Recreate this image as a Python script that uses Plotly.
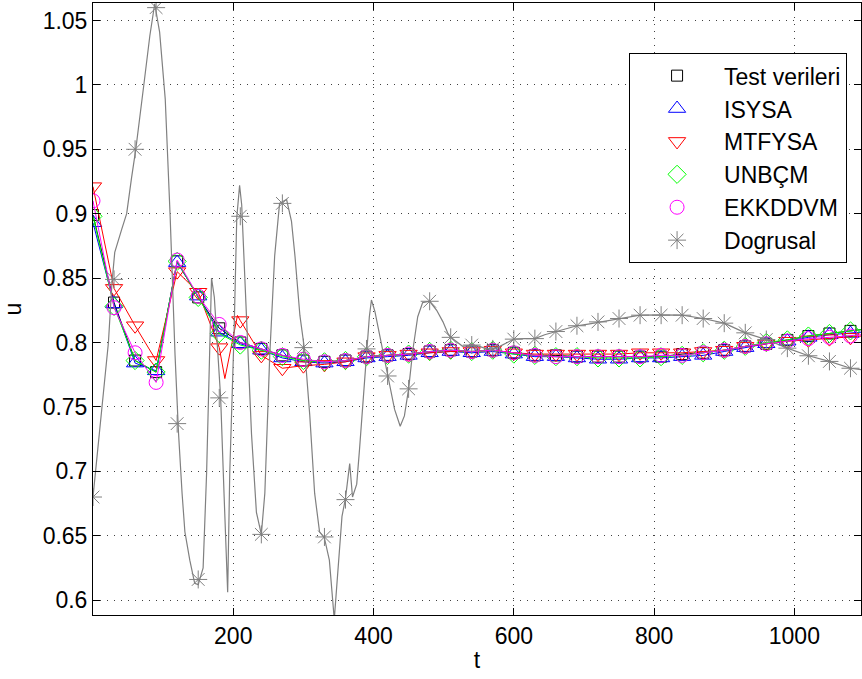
import plotly.graph_objects as go

# ---------------- data ----------------
t_mark = list(range(0, 1081, 30))

test_verileri = [0.899, 0.831, 0.786, 0.777, 0.863, 0.835, 0.811, 0.800, 0.795, 0.790,
                 0.786, 0.785, 0.786, 0.789, 0.790, 0.791, 0.793, 0.794, 0.793, 0.794,
                 0.792, 0.790, 0.790, 0.789, 0.789, 0.789, 0.789, 0.789, 0.791, 0.792,
                 0.794, 0.797, 0.799, 0.802, 0.805, 0.807, 0.809]
isysa = [0.893, 0.830, 0.784, 0.778, 0.862, 0.836, 0.808, 0.799, 0.794, 0.788,
         0.785, 0.784, 0.785, 0.788, 0.789, 0.790, 0.792, 0.793, 0.792, 0.793,
         0.791, 0.789, 0.789, 0.788, 0.787, 0.787, 0.788, 0.788, 0.789, 0.790,
         0.793, 0.796, 0.799, 0.801, 0.804, 0.806, 0.807]
mtfysa = [0.921, 0.842, 0.813, 0.786, 0.855, 0.839, 0.796, 0.817, 0.790, 0.780,
          0.782, 0.783, 0.785, 0.789, 0.790, 0.791, 0.792, 0.793, 0.793, 0.794,
          0.792, 0.791, 0.791, 0.791, 0.791, 0.791, 0.792, 0.792, 0.792, 0.793,
          0.794, 0.797, 0.799, 0.801, 0.802, 0.803, 0.804]
unbcm = [0.898, 0.828, 0.786, 0.777, 0.863, 0.835, 0.807, 0.798, 0.794, 0.789,
         0.786, 0.785, 0.786, 0.789, 0.790, 0.791, 0.793, 0.794, 0.793, 0.794,
         0.791, 0.790, 0.789, 0.789, 0.788, 0.788, 0.788, 0.789, 0.790, 0.792,
         0.794, 0.797, 0.800, 0.802, 0.805, 0.807, 0.809]
ekkddvm = [0.910, 0.827, 0.792, 0.769, 0.864, 0.836, 0.814, 0.800, 0.795, 0.790,
           0.787, 0.785, 0.786, 0.789, 0.790, 0.791, 0.793, 0.794, 0.793, 0.794,
           0.792, 0.790, 0.789, 0.789, 0.789, 0.789, 0.789, 0.790, 0.790, 0.792,
           0.794, 0.797, 0.799, 0.801, 0.803, 0.804, 0.805]
dogrusal = [0.680, 0.849, 0.950, 1.060, 0.737, 0.616, 0.757, 0.898, 0.651, 0.908,
            0.796, 0.649, 0.678, 0.795, 0.774, 0.764, 0.832, 0.804, 0.798, 0.795,
            0.8026, 0.803, 0.8085, 0.813, 0.816, 0.8186, 0.8212, 0.8212, 0.8212, 0.8186,
            0.815, 0.8075, 0.8023, 0.7956, 0.7897, 0.7853, 0.780]

# extra line vertices
t_end = 1095
tail_values = {"test": 0.810, "isysa": 0.808, "mtfysa": 0.805, "unbcm": 0.810, "ekkddvm": 0.806}
mtfysa_dip_t = [188, 206]
mtfysa_dip_u = [0.772, 0.821]

dogrusal_line_t = [0, 15, 22, 27, 31, 41, 48, 55, 61, 72, 81, 88, 95, 103, 110, 117, 122, 127,
                   131, 138, 145, 150, 157, 162, 166, 169, 173, 182, 187, 192, 195, 201, 205,
                   209, 212, 219, 226, 233, 240, 245, 252, 259, 266, 276, 283, 288, 295, 302,
                   309, 316, 323, 330, 337, 344, 349, 355, 360, 366, 370, 376, 380, 387, 394,
                   397, 402, 409, 420, 430, 438, 444, 450, 456, 463, 470, 480, 490, 499, 506,
                   510, 520, 527, 540, 551, 561, 570, 580, 589, 600, 615, 630, 644, 660, 675,
                   690, 706, 720, 750, 780, 810, 840, 870, 900, 930, 960, 990, 1020, 1050,
                   1080, 1095]
dogrusal_line_u = [0.680, 0.760, 0.800, 0.846, 0.870, 0.888, 0.900, 0.928, 0.950, 0.998, 1.038,
                   1.063, 1.041, 0.989, 0.898, 0.790, 0.729, 0.683, 0.653, 0.631, 0.613, 0.612,
                   0.625, 0.699, 0.790, 0.850, 0.835, 0.757, 0.680, 0.606, 0.699, 0.805, 0.897,
                   0.922, 0.907, 0.821, 0.729, 0.668, 0.651, 0.683, 0.790, 0.867, 0.908, 0.911,
                   0.894, 0.867, 0.821, 0.793, 0.744, 0.683, 0.653, 0.648, 0.631, 0.585, 0.622,
                   0.665, 0.679, 0.706, 0.680, 0.690, 0.717, 0.7685, 0.820, 0.833, 0.824, 0.805,
                   0.774, 0.748, 0.735, 0.743, 0.764, 0.794, 0.820, 0.831, 0.832, 0.825, 0.816,
                   0.807, 0.804, 0.800, 0.797, 0.798, 0.797, 0.795, 0.795, 0.797, 0.7995, 0.8026,
                   0.803, 0.803, 0.806, 0.8085, 0.811, 0.813, 0.8143, 0.8155, 0.8186, 0.8212,
                   0.8215, 0.8212, 0.8186, 0.815, 0.8075, 0.8023, 0.7956, 0.7897, 0.7853,
                   0.780, 0.779]

x_tickvals = [200, 400, 600, 800, 1000]
y_tickvals = [0.6, 0.65, 0.7, 0.75, 0.8, 0.85, 0.9, 0.95, 1.0, 1.05]
y_ticktext = ["0.6", "0.65", "0.7", "0.75", "0.8", "0.85", "0.9", "0.95", "1", "1.05"]

# ---------------- figure ----------------
FONT = "Liberation Sans, Arial, sans-serif"
fig = go.Figure()

series = [
    ("Test verileri", test_verileri, "test", "black", "square-open", 11),
    ("ISYSA", isysa, "isysa", "#0000ff", "triangle-up-open", 15),
    ("MTFYSA", mtfysa, "mtfysa", "#ff0000", "triangle-down-open", 15),
    ("UNBÇM", unbcm, "unbcm", "#00ff00", "diamond-open", 14),
    ("EKKDDVM", ekkddvm, "ekkddvm", "#ff00ff", "circle-open", 14),
]

for name, vals, key, color, sym, size in series:
    lx = list(t_mark) + [t_end]
    ly = list(vals) + [tail_values[key]]
    if key == "mtfysa":
        pts = sorted(list(zip(lx, ly)) + list(zip(mtfysa_dip_t, mtfysa_dip_u)))
        lx = [p[0] for p in pts]
        ly = [p[1] for p in pts]
    fig.add_trace(go.Scatter(x=lx, y=ly, mode="lines", line=dict(color=color, width=1),
                             showlegend=False, hoverinfo="skip"))
    fig.add_trace(go.Scatter(x=t_mark, y=vals, mode="markers", name=name,
                             marker=dict(symbol=sym, size=size, color=color,
                                         line=dict(color=color, width=1))))

fig.add_trace(go.Scatter(x=dogrusal_line_t, y=dogrusal_line_u, mode="lines",
                         line=dict(color="#808080", width=1.2), showlegend=False, hoverinfo="skip"))
fig.add_trace(go.Scatter(x=t_mark, y=dogrusal, mode="markers", name="Dogrusal",
                         marker=dict(symbol="asterisk-open", size=15, color="#808080",
                                     line=dict(color="#808080", width=1))))

axis_common = dict(
    showline=True, linecolor="black", linewidth=1, mirror="ticks",
    ticks="inside", ticklen=7, tickcolor="black", tickwidth=1,
    showgrid=True, gridcolor="rgba(0,0,0,0.75)", gridwidth=1, griddash="1px,6px",
    zeroline=False, tickfont=dict(family=FONT, size=23, color="black"),
    automargin=False,
)

fig.update_layout(
    width=862, height=679,
    margin=dict(l=93, r=1, t=3, b=64),
    paper_bgcolor="white", plot_bgcolor="white",
    font=dict(family=FONT, size=23, color="black"),
    xaxis=dict(range=[0, 1095], tickvals=x_tickvals,
               title=dict(text="t", font=dict(family=FONT, size=23), standoff=4),
               **axis_common),
    yaxis=dict(range=[0.5884, 1.0636], tickvals=y_tickvals, ticktext=y_ticktext,
               title=dict(text="u", font=dict(family=FONT, size=23), standoff=14),
               **axis_common),
    legend=dict(x=0.698, y=0.918, xanchor="left", yanchor="top",
                bgcolor="white", bordercolor="black", borderwidth=1,
                font=dict(family=FONT, size=23, color="black"),
                itemwidth=84, tracegroupgap=0),
    showlegend=True,
)

fig.write_html("out.html", config={"displayModeBar": False},
               post_script="document.body.style.margin='0';")
